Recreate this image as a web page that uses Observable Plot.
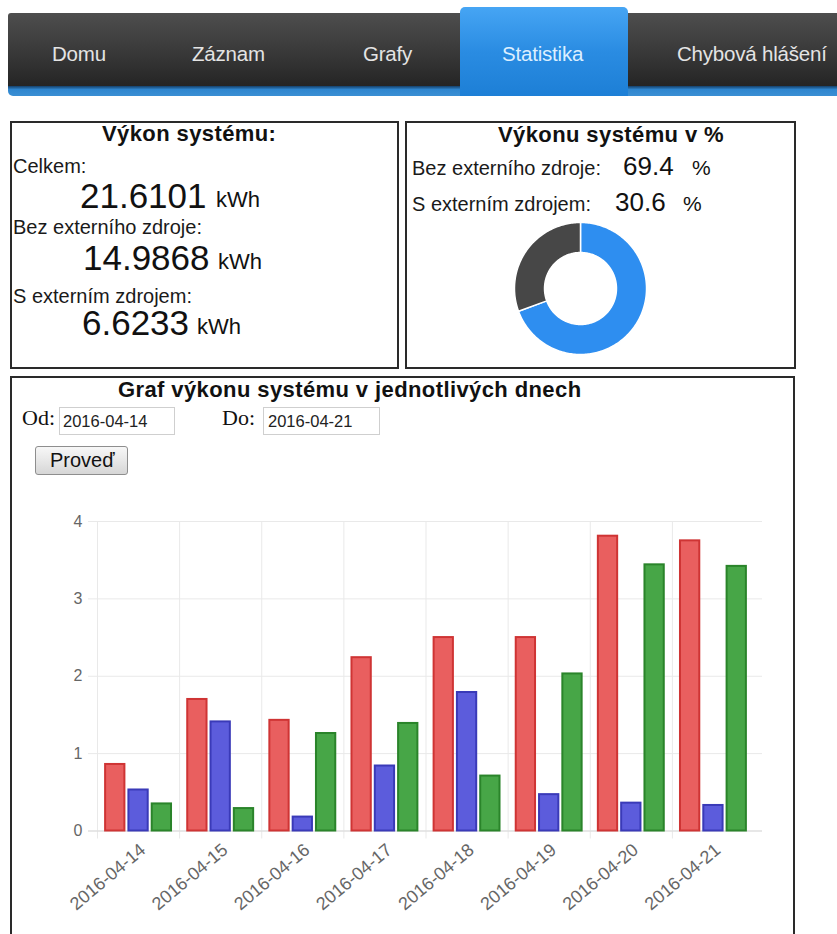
<!DOCTYPE html>
<html>
<head>
<meta charset="utf-8">
<script src="https://cdn.jsdelivr.net/npm/d3@7"></script>
<script src="https://cdn.jsdelivr.net/npm/@observablehq/plot@0.6"></script>
<style>
html,body{margin:0;padding:0;background:#fff;width:837px;height:934px;overflow:hidden;
  font-family:"Liberation Sans",Arial,Helvetica,sans-serif;color:#151515;}
.abs{position:absolute;white-space:nowrap;line-height:1;}
.nav{position:absolute;left:8px;top:13px;width:829px;height:74px;
  background:linear-gradient(#4e4e4e,#383838 55%,#242424);border-radius:3px 0 0 0;}
.navline{position:absolute;left:8px;top:86px;width:829px;height:10px;
  background:linear-gradient(#15406a,#2f86cf 35%,#3a8fd4);border-radius:0 0 0 5px;}
.tab{position:absolute;left:460px;top:7px;width:168px;height:89px;
  background:linear-gradient(#46a5f4,#2a8ce2 50%,#1d7fd6);border-radius:5px 5px 0 0;}
.navt{font-size:20.5px;color:#e4e4e4;letter-spacing:-0.2px;}
.box{position:absolute;border:2px solid #2a2a2a;box-sizing:border-box;background:transparent;}
.ttl{font-weight:bold;font-size:22px;letter-spacing:0.4px;color:#111;}
.lbl{font-size:20px;color:#1a1a1a;}
.num{font-size:35px;color:#111;}
.unit{font-size:22px;color:#111;}
.pct{font-size:26px;color:#111;}
.pcs{font-size:21px;color:#111;}
.serif{font-family:"Liberation Serif","Times New Roman",serif;font-size:22px;color:#111;}
.inp{position:absolute;border:1px solid #cfcfcf;box-sizing:border-box;height:28px;background:#fff;}
.inpt{font-size:16.5px;color:#222;}
.btn{position:absolute;left:35px;top:446px;width:93px;height:29px;box-sizing:border-box;
  border:1px solid #8e8e8e;border-radius:3px;background:linear-gradient(#f7f7f7,#e4e4e4 60%,#d6d6d6);}
</style>
</head>
<body>
<div class="nav"></div>
<div class="navline"></div>
<div class="tab"></div>
<div id="navitems"></div>

<div class="box" style="left:10px;top:121px;width:389px;height:248px;"></div>
<div class="box" style="left:405px;top:121px;width:391px;height:248px;"></div>
<div class="box" style="left:10px;top:376px;width:785px;height:620px;"></div>

<div class="abs ttl" style="left:102px;top:123.4px;">Výkon systému:</div>
<div id="totals"></div>

<div class="abs ttl" style="left:498px;top:124.4px;">Výkonu systému v %</div>
<div id="percents"></div>
<div id="donut" style="position:absolute;left:512px;top:220px;"></div>

<div class="abs ttl" style="left:118px;top:379.4px;">Graf výkonu systému v jednotlivých dnech</div>
<div class="abs serif" style="left:22px;top:406.6px;">Od:</div>
<div class="inp" style="left:59px;top:407px;width:116px;"></div>
<div class="abs inpt" style="left:63px;top:413px;" id="odText"></div>
<div class="abs serif" style="left:222px;top:406.6px;">Do:</div>
<div class="inp" style="left:263px;top:407px;width:117px;"></div>
<div class="abs inpt" style="left:268px;top:413px;" id="doText"></div>
<div class="btn"></div>
<div class="abs" style="left:50px;top:450px;font-size:20px;color:#111;">Proveď</div>

<div id="chart" style="position:absolute;left:0px;top:480px;"></div>

<script>
// ---------- data ----------
const navItems = ["Domu", "Záznam", "Grafy", "Statistika", "Chybová hlášení"];
const totalLabels = ["Celkem:", "Bez externího zdroje:", "S externím zdrojem:"];
const totalValues = ["21.6101", "14.9868", "6.6233"];
const totalUnit = "kWh";
const percentLabels = ["Bez externího zdroje:", "S externím zdrojem:"];
const percentValues = [69.4, 30.6];
const dates = ["2016-04-14","2016-04-15","2016-04-16","2016-04-17","2016-04-18","2016-04-19","2016-04-20","2016-04-21"];
const celkem       = [0.86, 1.70, 1.43, 2.24, 2.50, 2.50, 3.81, 3.75];
const sExternim    = [0.53, 1.41, 0.18, 0.84, 1.79, 0.47, 0.36, 0.33];
const bezExterniho = [0.35, 0.29, 1.26, 1.39, 0.71, 2.03, 3.44, 3.42];
const yTicks = [0, 1, 2, 3, 4];

// ---------- html texts ----------
const navPos = [52, 192, 363, 502, 677];
const nav = document.getElementById("navitems");
navItems.forEach((t, i) => {
  const d = document.createElement("div");
  d.className = "abs navt";
  d.style.left = navPos[i] + "px";
  d.style.top = "44px";
  if (i === 3) d.style.color = "#dcefff";
  d.textContent = t;
  nav.appendChild(d);
});

const tl = document.getElementById("totals");
const lblTops = [156.1, 217, 286];
const numTops = [178.4, 240.4, 305.4];
const numLefts = [80, 83, 82];
const unitLefts = [216, 218, 197];
totalLabels.forEach((t, i) => {
  tl.insertAdjacentHTML("beforeend",
    `<div class="abs lbl" style="left:13px;top:${lblTops[i]}px;">${t}</div>` +
    `<div class="abs num" style="left:${numLefts[i]}px;top:${numTops[i]}px;">${totalValues[i]}</div>` +
    `<div class="abs unit" style="left:${unitLefts[i]}px;top:${numTops[i] + 11}px;">${totalUnit}</div>`);
});

const pc = document.getElementById("percents");
const pLblTops = [158, 194];
const pNumLefts = [623, 615];
const pSignLefts = [692, 683];
percentLabels.forEach((t, i) => {
  pc.insertAdjacentHTML("beforeend",
    `<div class="abs lbl" style="left:412px;top:${pLblTops[i]}px;">${t}</div>` +
    `<div class="abs pct" style="left:${pNumLefts[i]}px;top:${pLblTops[i] - 5}px;">${percentValues[i].toFixed(1)}</div>` +
    `<div class="abs pcs" style="left:${pSignLefts[i]}px;top:${pLblTops[i] - 0.8}px;">%</div>`);
});
document.getElementById("odText").textContent = dates[0];
document.getElementById("doText").textContent = dates[dates.length - 1];

// ---------- donut ----------
const pie = d3.pie().sort(null)(percentValues);
const rOut = 1, rIn = 0.545;
function ring(a0, a1) {
  const n = Math.max(2, Math.ceil((a1 - a0) / 0.02));
  const pts = [];
  for (let k = 0; k <= n; k++) { const a = a0 + (a1 - a0) * k / n; pts.push({x: rOut * Math.sin(a), y: rOut * Math.cos(a)}); }
  for (let k = n; k >= 0; k--) { const a = a0 + (a1 - a0) * k / n; pts.push({x: rIn * Math.sin(a), y: rIn * Math.cos(a)}); }
  return pts;
}
const sliceColors = ["#2e8ef0", "#474747"];
const donut = Plot.plot({
  width: 136, height: 136, margin: 0,
  x: {domain: [-1.03, 1.03], axis: null},
  y: {domain: [-1.03, 1.03], axis: null},
  style: {background: "transparent", overflow: "visible"},
  marks: pie.map((p, i) => Plot.line(ring(p.startAngle, p.endAngle), {
    x: "x", y: "y", curve: "linear-closed", fill: sliceColors[i], stroke: "white", strokeWidth: 1.5
  }))
});
document.getElementById("donut").appendChild(donut);

// ---------- bar chart ----------
const W = 790, H = 454, mL = 97, mR = 36, mT = 41, mB = 103.5;
const bw = (W - mL - mR) / dates.length;
const sub = d3.scaleBand().domain([0, 1, 2]).range([0, bw]).paddingInner(0.086).paddingOuter(0.305);
const rows = dates.map((d, i) => ({date: d, celkem: celkem[i], s: sExternim[i], bez: bezExterniho[i]}));
function bars(key, idx, fill, stroke) {
  const x0 = sub(idx), w = sub.bandwidth();
  return Plot.barY(rows, {x: "date", y: key, fill, stroke, strokeWidth: 2,
    insetLeft: x0 + 1, insetRight: bw - x0 - w + 1});
}
const chart = Plot.plot({
  width: W, height: H,
  marginLeft: mL, marginRight: mR, marginTop: mT, marginBottom: mB,
  style: {background: "transparent", overflow: "visible", fontSize: "16px",
    fontFamily: "'Liberation Sans', Arial, sans-serif", color: "#666"},
  x: {domain: dates, padding: 0, round: false, axis: null},
  y: {domain: [0, 4], ticks: 4, tickSize: 0, tickPadding: 15, label: null, tickFormat: d3.format("d")},
  marks: [
    Plot.ruleY(yTicks, {stroke: "#e9e9e9", insetLeft: -9, insetRight: -8}),
    Plot.ruleX(dates, {x: d => d, dx: -bw / 2, stroke: "#e9e9e9", insetBottom: -8}),
    Plot.ruleY([0], {stroke: "#dadada", insetLeft: -9, insetRight: -8}),
    bars("celkem", 0, "#e95f5f", "#cf3434"),
    bars("s", 1, "#5c5cdc", "#3a3ab8"),
    bars("bez", 2, "#47a647", "#2a842a"),
    Plot.text(dates, {x: d => d, frameAnchor: "bottom", rotate: -40, textAnchor: "end",
      lineAnchor: "top", dy: 11, fontSize: 18, fill: "#666"})
  ]
});
document.getElementById("chart").appendChild(chart);
</script>
</body>
</html>
